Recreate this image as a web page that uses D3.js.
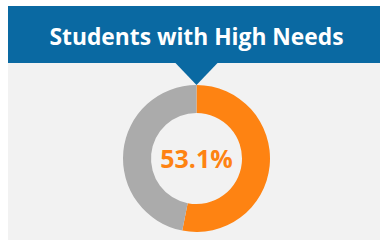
<!DOCTYPE html>
<html>
<head>
<meta charset="utf-8">
<script src="https://cdn.jsdelivr.net/npm/d3@7"></script>
<style>
  html, body { margin: 0; padding: 0; background: #fff; }
  svg { display: block; }
</style>
</head>
<body>
<svg id="chart" width="380" height="240"></svg>
<script>
// data
const title = "Students with High Needs";
const labels = ["High Needs", "Other"];
const values = [53.1, 46.9];
const colors = ["#fe8312", "#ababab"];

const width = 380, height = 240;
const svg = d3.select("#chart");

// panel + banner
svg.append("rect").attr("x", 8).attr("y", 6).attr("width", width - 8).attr("height", height - 6)
  .attr("fill", "#f2f2f2");
svg.append("rect").attr("x", 8).attr("y", 6).attr("width", width - 8).attr("height", 57)
  .attr("fill", "#0a69a2");

const cx = 196.5, cy = 158.5;
// pointer under the banner
svg.append("path")
  .attr("d", `M${cx - 22},62 L${cx + 22},62 L${cx},85 Z`)
  .attr("fill", "#0a69a2");

svg.append("text")
  .attr("x", cx).attr("y", 45)
  .attr("text-anchor", "middle")
  .attr("font-family", "'Open Sans', sans-serif")
  .attr("font-weight", 700)
  .attr("font-size", 23.5)
  .attr("textLength", 294)
  .attr("lengthAdjust", "spacingAndGlyphs")
  .attr("fill", "#fff")
  .text(title);

// donut
const pie = d3.pie().sort(null).value(d => d);
const arc = d3.arc().innerRadius(45.5).outerRadius(73.5);

const g = svg.append("g").attr("transform", `translate(${cx},${cy})`);
g.selectAll("path")
  .data(pie(values))
  .join("path")
  .attr("d", arc)
  .attr("fill", (d, i) => colors[i]);

g.append("text")
  .attr("text-anchor", "middle")
  .attr("y", 9)
  .attr("font-family", "'Open Sans', sans-serif")
  .attr("font-weight", 700)
  .attr("font-size", 25)
  .attr("fill", colors[0])
  .text(d3.format(".1f")(values[0]) + "%");
</script>
</body>
</html>
